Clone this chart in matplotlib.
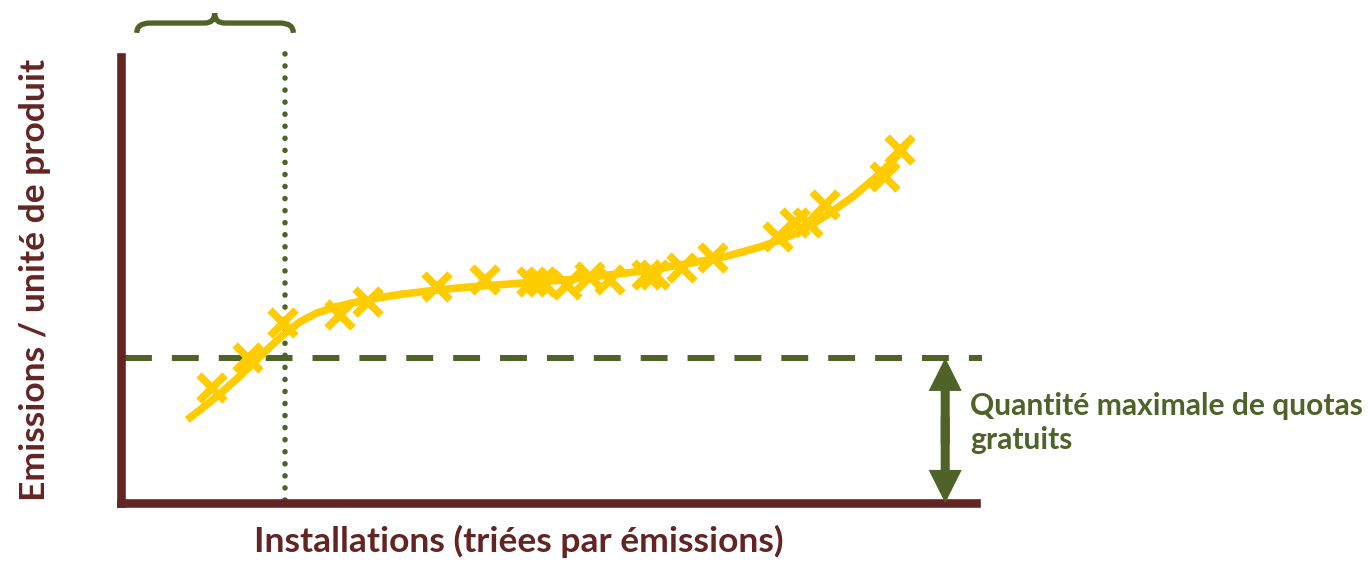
import matplotlib
matplotlib.use("Agg")
from matplotlib import pyplot as plt
from matplotlib.path import Path
from matplotlib.patches import PathPatch

MAROON = "#632523"
GREEN = "#4F6228"
YELLOW = "#FFCC00"

plt.rcParams['font.family'] = ['Lato', 'DejaVu Sans']

# installations (x) and emissions per unit (y), in % of axis range
inst_x = [10.7, 14.9, 19.0, 25.7, 28.9, 37.0, 42.6, 48.1, 49.3, 52.2, 54.9,
          57.2, 61.5, 62.5, 65.6, 69.3, 76.9, 78.8, 80.4, 82.3, 89.4, 91.1]
inst_y = [25.8, 32.5, 40.3, 42.1, 45.0, 48.4, 49.9, 49.5, 49.5, 48.8, 50.6,
          49.9, 51.1, 51.1, 52.6, 54.9, 59.6, 62.7, 62.7, 66.7, 73.0, 79.1]

# trend curve
curve_x = [7.8, 9.6, 11.6, 13.6, 15.5, 17.5, 19.2, 21.0, 23.0, 25.3, 27.6,
           30.0, 33.0, 37.0, 40.8, 44.4, 52.2, 59.9, 63.1, 66.9, 70.9, 74.7,
           77.1, 79.4, 82.6, 85.6, 88.0, 89.9, 91.1, 91.9]
curve_y = [18.6, 21.3, 24.4, 27.8, 31.3, 35.0, 38.0, 40.6, 42.6, 44.0, 45.0,
           45.9, 46.8, 47.7, 48.4, 48.9, 50.0, 51.7, 52.6, 53.8, 55.3, 57.3,
           58.9, 60.8, 64.5, 68.6, 72.5, 75.9, 78.4, 80.4]

benchmark = 32.5      # max free allocation level
cutoff_x = 19.2       # installation at the benchmark
arrow_x = 96.4

fig = plt.figure(figsize=(13.71, 5.63), dpi=100)
ax = fig.add_axes([0.0879, 0.1066, 0.6240, 0.7930])
ax.set_xlim(0, 100)
ax.set_ylim(0, 100)

ax.plot(curve_x, curve_y, color=YELLOW, lw=5.5, solid_capstyle='butt',
        solid_joinstyle='round', zorder=3)
ax.plot(inst_x, inst_y, linestyle='none', marker='x', markersize=19,
        markeredgewidth=5.5, color=YELLOW, zorder=3)

# benchmark line
ax.plot([0.5, 100.7], [benchmark, benchmark], color=GREEN, lw=4.3,
        dashes=(4.5, 3.35), clip_on=False, zorder=2)
# dotted cutoff
ax.plot([cutoff_x, cutoff_x], [0.7, 100.8], color=GREEN, lw=4,
        dashes=(0.01, 2.16), dash_capstyle='round', clip_on=False, zorder=2)

# brace above the axes
x0, x1 = 1.9, cutoff_x + 1.0
xt = 11.0
yb, ym, yt = 105.3, 107.5, 109.7
verts = [(x0, yb), (x0, ym), (x0 + 1.6, ym),
         (xt - 1.2, ym), (xt, ym), (xt, yt),
         (xt, ym), (xt + 1.2, ym),
         (x1 - 1.6, ym), (x1, ym), (x1, yb)]
codes = [Path.MOVETO, Path.CURVE3, Path.CURVE3,
         Path.LINETO, Path.CURVE3, Path.CURVE3,
         Path.CURVE3, Path.CURVE3,
         Path.LINETO, Path.CURVE3, Path.CURVE3]
ax.add_patch(PathPatch(Path(verts, codes), fill=False, edgecolor=GREEN,
                       lw=3.8, clip_on=False, capstyle='butt'))

# double arrow = max free allocation
mid = benchmark / 2
for tip, start in ((benchmark, mid - 3), (0, mid + 3)):
    ax.annotate('', xy=(arrow_x, tip), xytext=(arrow_x, start),
                arrowprops=dict(arrowstyle='simple,head_length=2.38,head_width=2.38,tail_width=0.65',
                                color=GREEN, lw=0, shrinkA=0, shrinkB=0),
                annotation_clip=False, zorder=4)

ax.text(0.993, 0.179, "Quantité maximale de quotas\ngratuits", transform=ax.transAxes,
        color=GREEN, fontsize=21.6, fontweight='bold', ha='left', va='center',
        linespacing=1.27)

ax.set_xlabel("Installations (triées par émissions)", color=MAROON,
              fontsize=25.5, fontweight='bold', labelpad=16)
ax.xaxis.label.set_x(0.466)
ax.set_ylabel("Emissions / unité de produit", color=MAROON,
              fontsize=25.5, fontweight='bold', labelpad=50)

ax.set_xticks([])
ax.set_yticks([])
for side in ('top', 'right'):
    ax.spines[side].set_visible(False)
for side in ('left', 'bottom'):
    ax.spines[side].set_color(MAROON)
    ax.spines[side].set_linewidth(6.2)
    ax.spines[side].set_capstyle('projecting')

fig.savefig("out.png", dpi=100)
